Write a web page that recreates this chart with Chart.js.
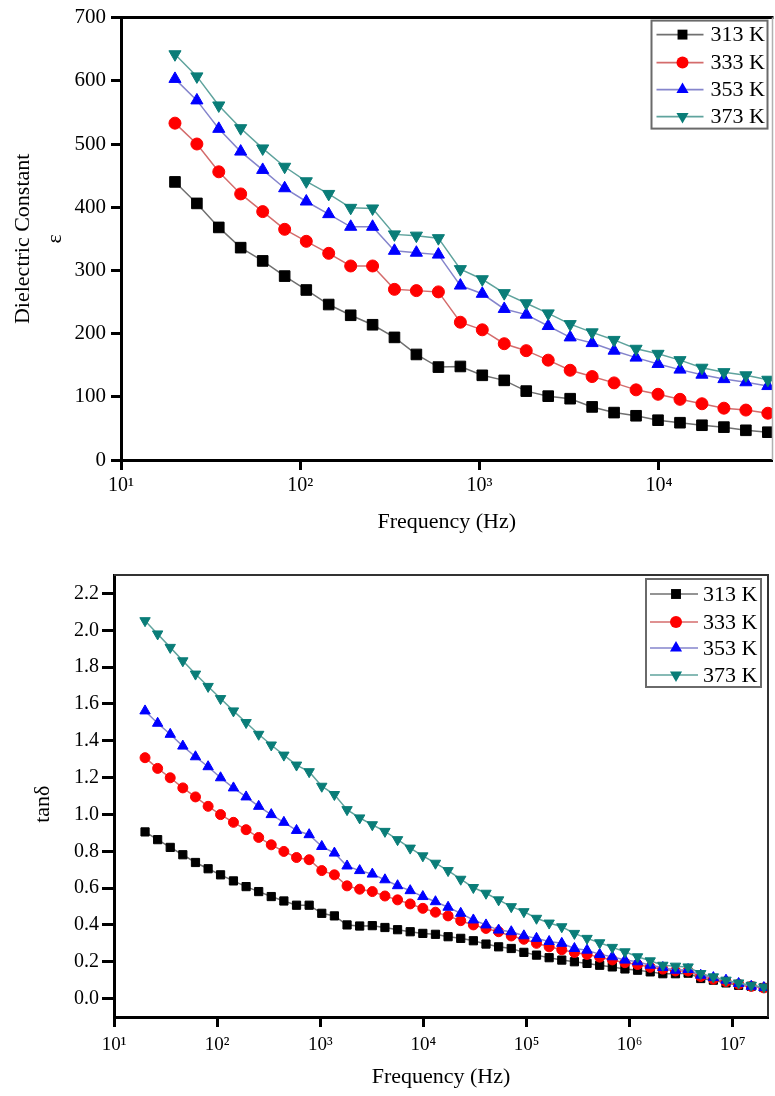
<!DOCTYPE html>
<html>
<head>
<meta charset="utf-8">
<script src="https://cdn.jsdelivr.net/npm/chart.js@4.4.0/dist/chart.umd.min.js"></script>
<style>
html,body{margin:0;padding:0;background:#fff;}
#wrap{position:relative;width:775px;height:1096px;overflow:hidden;background:#fff;}
#c1{position:absolute;left:0;top:0;}
#c2{position:absolute;left:0;top:545px;}
</style>
</head>
<body>
<div id="wrap">
<canvas id="c1" width="781" height="545"></canvas>
<canvas id="c2" width="775" height="551"></canvas>
</div>
<script>
// ---------- data ----------
const seriesLabels = ['313 K', '333 K', '353 K', '373 K'];

const freqEps = [20, 26.5, 35.1, 46.5, 61.7, 81.8, 108, 144, 191, 253, 335, 444, 589, 781,
  1035, 1372, 1820, 2413, 3199, 4242, 5623, 7456, 9886, 13108, 17378, 23041, 30549, 40503];

const eps313 = [440, 406, 368, 336, 315, 291, 269, 246, 229, 214, 194, 167, 147, 148,
  134, 126, 109, 101, 97, 84, 75, 70, 63, 59, 55, 52, 47, 44];
const eps333 = [533, 500, 456, 421, 393, 365, 346, 327, 307, 307, 270, 268, 266, 218,
  206, 184, 173, 158, 142, 132, 122, 111, 104, 96, 89, 82, 79, 74];
const eps353 = [603, 569, 524, 488, 459, 430, 409, 389, 369, 369, 331, 328, 325, 276,
  263, 239, 230, 212, 194, 185, 173, 162, 152, 143, 135, 128, 123, 117];
const eps373 = [642, 607, 561, 525, 493, 464, 441, 421, 399, 398, 357, 355, 351, 302,
  286, 264, 248, 232, 215, 202, 190, 176, 168, 158, 146, 139, 134, 127];

const freqTan = [20, 26.5, 35.1, 46.5, 61.7, 81.8, 108, 144, 191, 253, 335, 444, 589, 781,
  1035, 1372, 1820, 2413, 3199, 4242, 5623, 7456, 9886, 13108, 17378, 23041, 30549, 40503,
  53703, 71210, 94406, 125167, 165959, 220039, 291743, 386812, 512861, 679983, 901571,
  1195363, 1584893, 2101394, 2786121, 3693969, 4897788, 6493816, 8609938, 11415630,
  15135612, 20067340];

const tan313 = [0.905, 0.863, 0.821, 0.781, 0.739, 0.705, 0.672, 0.639, 0.608, 0.581,
  0.554, 0.530, 0.507, 0.507, 0.463, 0.449, 0.400, 0.394, 0.396, 0.386,
  0.374, 0.363, 0.354, 0.349, 0.336, 0.327, 0.314, 0.296, 0.281, 0.272,
  0.251, 0.236, 0.222, 0.209, 0.200, 0.191, 0.181, 0.172, 0.161, 0.154,
  0.145, 0.135, 0.135, 0.138, 0.109, 0.100, 0.085, 0.072, 0.067, 0.060];
const tan333 = [1.308, 1.250, 1.199, 1.144, 1.095, 1.044, 0.999, 0.957, 0.917, 0.875,
  0.835, 0.799, 0.766, 0.754, 0.695, 0.672, 0.612, 0.594, 0.581, 0.557,
  0.536, 0.514, 0.490, 0.469, 0.449, 0.423, 0.400, 0.381, 0.363, 0.340,
  0.322, 0.300, 0.281, 0.265, 0.250, 0.240, 0.225, 0.210, 0.195, 0.185,
  0.170, 0.160, 0.150, 0.150, 0.120, 0.105, 0.092, 0.078, 0.066, 0.058];
const tan353 = [1.562, 1.495, 1.435, 1.371, 1.313, 1.259, 1.199, 1.144, 1.095, 1.044,
  0.999, 0.957, 0.913, 0.890, 0.826, 0.790, 0.720, 0.695, 0.676, 0.645,
  0.613, 0.586, 0.554, 0.526, 0.496, 0.463, 0.427, 0.400, 0.372, 0.363,
  0.341, 0.327, 0.310, 0.300, 0.272, 0.263, 0.240, 0.227, 0.209, 0.200,
  0.181, 0.169, 0.154, 0.158, 0.127, 0.114, 0.100, 0.082, 0.067, 0.060];
const tan373 = [2.052, 1.980, 1.907, 1.834, 1.762, 1.695, 1.629, 1.562, 1.499, 1.435,
  1.377, 1.322, 1.268, 1.232, 1.153, 1.108, 1.026, 0.981, 0.944, 0.908,
  0.863, 0.817, 0.775, 0.735, 0.695, 0.648, 0.603, 0.572, 0.536, 0.499,
  0.472, 0.436, 0.410, 0.390, 0.354, 0.327, 0.303, 0.278, 0.254, 0.227,
  0.205, 0.181, 0.176, 0.172, 0.136, 0.118, 0.100, 0.085, 0.072, 0.063];

// tick values / labels
const epsYTicks = [0, 100, 200, 300, 400, 500, 600, 700];
const epsXTicks = [10, 100, 1000, 10000];
const epsXTickLabels = ['10¹', '10²', '10³', '10⁴'];
const tanYTicks = [0, 0.2, 0.4, 0.6, 0.8, 1.0, 1.2, 1.4, 1.6, 1.8, 2.0, 2.2];
const tanYTickLabels = ['0.0', '0.2', '0.4', '0.6', '0.8', '1.0', '1.2', '1.4', '1.6', '1.8', '2.0', '2.2'];
const tanXTicks = [10, 100, 1000, 10000, 100000, 1000000, 10000000];
const tanXTickLabels = ['10¹', '10²', '10³', '10⁴', '10⁵', '10⁶', '10⁷'];

// ---------- styles ----------
const FONT = 'Liberation Serif';
const markerColors = ['#000000', '#ff0000', '#0000ff', '#0a7d78'];
const lineColors = ['#707070', '#d46c6c', '#8585cc', '#5fa39d'];
const pointStyles = ['rect', 'circle', 'triangle', 'triangle'];
const pointRotations = [0, 0, 0, 180];
const drawOrders = [4, 3, 2, 1];

function buildDatasets(freqs, seriesList, radii, lineWidth) {
  return seriesList.map((vals, i) => ({
    label: seriesLabels[i],
    data: vals.map((v, k) => ({ x: freqs[k], y: v })),
    borderColor: lineColors[i],
    borderWidth: lineWidth,
    backgroundColor: markerColors[i],
    pointBackgroundColor: markerColors[i],
    pointBorderColor: markerColors[i],
    pointBorderWidth: 1,
    pointStyle: pointStyles[i],
    pointRotation: pointRotations[i],
    pointRadius: radii[i],
    pointHoverRadius: radii[i],
    tension: 0,
    order: drawOrders[i],
    fill: false
  }));
}

function markerPath(ctx, style, r, rot, x, y) {
  ctx.beginPath();
  if (style === 'rect') {
    const s = r * Math.SQRT1_2;
    ctx.rect(x - s, y - s, 2 * s, 2 * s);
  } else if (style === 'circle') {
    ctx.arc(x, y, r, 0, Math.PI * 2);
  } else {
    let a = rot * Math.PI / 180;
    for (let k = 0; k < 3; k++) {
      const px = x + Math.sin(a) * r, py = y - Math.cos(a) * r;
      if (k === 0) ctx.moveTo(px, py); else ctx.lineTo(px, py);
      a += 2 * Math.PI / 3;
    }
    ctx.closePath();
  }
}

const boxLegend = {
  id: 'boxLegend',
  afterDraw(chart, args, o) {
    const ctx = chart.ctx, a = chart.chartArea;
    const x0 = a.right - o.rightInset - o.width, y0 = a.top + o.topInset;
    ctx.save();
    ctx.fillStyle = '#fff';
    ctx.fillRect(x0, y0, o.width, o.height);
    ctx.strokeStyle = '#6a6a6a';
    ctx.lineWidth = 2;
    ctx.strokeRect(x0, y0, o.width, o.height);
    chart.data.datasets.forEach((ds, i) => {
      const y = y0 + o.rows[i];
      ctx.strokeStyle = ds.borderColor;
      ctx.lineWidth = 1.6;
      ctx.beginPath();
      ctx.moveTo(x0 + o.lineStart, y);
      ctx.lineTo(x0 + o.lineEnd, y);
      ctx.stroke();
      markerPath(ctx, ds.pointStyle, o.radius[i], ds.pointRotation || 0, x0 + o.marker, y);
      ctx.fillStyle = ds.pointBackgroundColor;
      ctx.fill();
      ctx.fillStyle = '#000';
      ctx.font = o.fontSize + 'px "' + FONT + '"';
      ctx.textBaseline = 'middle';
      ctx.textAlign = 'left';
      ctx.fillText(ds.label, x0 + o.textX, y + 1);
    });
    ctx.restore();
  }
};

const frame = {
  id: 'frame',
  afterDraw(chart, args, o) {
    const ctx = chart.ctx, a = chart.chartArea;
    ctx.save();
    ctx.strokeStyle = o.topColor;
    ctx.lineWidth = o.topWidth;
    ctx.beginPath();
    ctx.moveTo(a.left, a.top);
    ctx.lineTo(a.right + 1, a.top);
    ctx.stroke();
    ctx.strokeStyle = o.rightColor;
    ctx.lineWidth = o.rightWidth;
    ctx.beginPath();
    ctx.moveTo(a.right, a.top);
    ctx.lineTo(a.right, a.bottom);
    ctx.stroke();
    ctx.restore();
  }
};

function axisCommon(tickLen) {
  return {
    grid: { display: true, drawOnChartArea: false, drawTicks: true, tickLength: tickLen, tickWidth: 3, tickColor: '#000' },
    border: { display: true, width: 3, color: '#000' }
  };
}

// ---------- top chart: dielectric constant ----------
new Chart(document.getElementById('c1'), {
  type: 'line',
  data: { datasets: buildDatasets(freqEps, [eps313, eps333, eps353, eps373], [7.5, 6, 7, 7], 1.5) },
  options: {
    responsive: false,
    animation: false,
    layout: { padding: { left: 0, top: 16, right: 0, bottom: 0 } },
    plugins: {
      legend: { display: false },
      tooltip: { enabled: false },
      boxLegend: { rightInset: 5, topInset: 3, width: 116, height: 108, rows: [14, 42, 69, 96],
        lineStart: 5, lineEnd: 52, marker: 31, textX: 59, radius: [7, 6, 7, 7], fontSize: 22 },
      frame: { topColor: '#000', topWidth: 3, rightColor: '#b0b0b0', rightWidth: 1.5 }
    },
    scales: {
      x: Object.assign(axisCommon(10), {
        type: 'logarithmic', min: 10, max: 43000,
        afterBuildTicks: s => { s.ticks = epsXTicks.map(v => ({ value: v })); },
        afterFit: s => { s.height = 85; },
        ticks: { autoSkip: false, maxRotation: 0, padding: 4, color: '#000',
          font: { family: FONT, size: 20 },
          callback: v => epsXTickLabels[epsXTicks.indexOf(v)] },
        title: { display: true, text: 'Frequency (Hz)', color: '#000',
          font: { family: FONT, size: 22 }, padding: { top: 0, bottom: 10 } }
      }),
      y: Object.assign(axisCommon(10), {
        type: 'linear', min: 0, max: 700,
        afterBuildTicks: s => { s.ticks = epsYTicks.map(v => ({ value: v })); },
        afterFit: s => { s.width = 121; },
        ticks: { padding: 5, color: '#000', font: { family: FONT, size: 21 },
          callback: v => String(v) },
        title: { display: true, text: ['Dielectric Constant', 'ε'], color: '#000',
          font: { family: FONT, size: 22, lineHeight: 1.45 }, padding: { top: 7, bottom: 0 } }
      })
    }
  },
  plugins: [boxLegend, frame]
});

// ---------- bottom chart: tan delta ----------
new Chart(document.getElementById('c2'), {
  type: 'line',
  data: { datasets: buildDatasets(freqTan, [tan313, tan333, tan353, tan373], [5.8, 5, 6, 6], 1.5) },
  options: {
    responsive: false,
    animation: false,
    layout: { padding: { left: 0, top: 30, right: 7, bottom: 0 } },
    plugins: {
      legend: { display: false },
      tooltip: { enabled: false },
      boxLegend: { rightInset: 7, topInset: 4, width: 115, height: 108, rows: [15, 43, 69, 96],
        lineStart: 4, lineEnd: 52, marker: 30, textX: 57, radius: [7, 6, 7, 7], fontSize: 22 },
      frame: { topColor: '#333', topWidth: 2, rightColor: '#333', rightWidth: 2 }
    },
    scales: {
      x: Object.assign(axisCommon(10), {
        type: 'logarithmic', min: 10, max: 22000000,
        afterBuildTicks: s => { s.ticks = tanXTicks.map(v => ({ value: v })); },
        afterFit: s => { s.height = 79; },
        ticks: { autoSkip: false, maxRotation: 0, padding: 7, color: '#000',
          font: { family: FONT, size: 19 },
          callback: v => tanXTickLabels[tanXTicks.indexOf(v)] },
        title: { display: true, text: 'Frequency (Hz)', color: '#000',
          font: { family: FONT, size: 22 }, padding: { top: 0, bottom: 6 } }
      }),
      y: Object.assign(axisCommon(12), {
        type: 'linear', min: -0.1, max: 2.3,
        afterBuildTicks: s => { s.ticks = tanYTicks.map(v => ({ value: v })); },
        afterFit: s => { s.width = 114; },
        ticks: { padding: 3, color: '#000', font: { family: FONT, size: 20 },
          callback: v => tanYTickLabels[tanYTicks.findIndex(t => Math.abs(t - v) < 1e-9)] },
        title: { display: true, text: 'tanδ   ', color: '#000',
          font: { family: FONT, size: 22 }, padding: { top: 30, bottom: 0 } }
      })
    }
  },
  plugins: [boxLegend, frame]
});
</script>
</body>
</html>
